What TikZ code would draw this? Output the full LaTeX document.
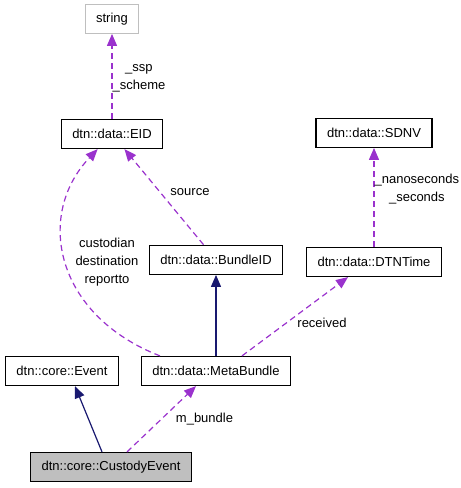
\documentclass[tikz,border=0pt]{standalone}
\usepackage{fontspec}
\setmainfont{Liberation Sans}
\usetikzlibrary{arrows.meta,positioning}
\definecolor{depPurple}{HTML}{9A32CD}
\definecolor{inhNavy}{HTML}{191970}
\definecolor{extGray}{HTML}{BFBFBF}

\begin{document}
\begin{tikzpicture}[
    x=1pt, y=-1pt,
    cls/.style={rectangle, draw=black, line width=1.2pt, fill=white, align=center, minimum height=29pt, inner xsep=11pt, font=\fontsize{13}{15}\selectfont},
    extcls/.style={cls, draw=extGray},
    focus/.style={cls, fill=extGray},
    inherit/.style={-{Triangle[length=12pt, width=10pt]}, line width=1.2pt, draw=inhNavy},
    usage/.style={-{Triangle[length=12pt, width=10pt]}, line width=1.2pt, draw=depPurple, dash pattern=on 6pt off 4pt},
    lbl/.style={align=center, inner sep=0pt, font=\fontsize{13}{18}\selectfont}
]
    \useasboundingbox (0,0) rectangle (461,488);

    \node [focus] (custody) at (111,467) {dtn::core::CustodyEvent};
    \node [cls] (event) at (62,371) {dtn::core::Event};
    \node [cls] (meta) at (216,371) {dtn::data::MetaBundle};
    \node [cls, above=81pt of meta] (bundleid) {dtn::data::BundleID};
    \node [cls] (dtntime) at (374,262) {dtn::data::DTNTime};
    \node [cls, above=99pt of dtntime] (sdnv) {dtn::data::SDNV};
    \node [cls] (eid) at (112,134) {dtn::data::EID};
    \node [extcls, above=85pt of eid] (string) {string};

    \draw [usage] (eid) -- node [lbl, right, yshift=-2pt] {\_ssp\\\_scheme} (string);
    \draw [usage] (dtntime) -- node [lbl, right, yshift=8pt] {\_nanoseconds\\\_seconds} (sdnv);
    \draw [usage] (bundleid) -- node [lbl, xshift=26pt, yshift=5pt] {source} (eid);
    \draw [usage] ([xshift=-56pt]meta.north) .. controls (55,315) and (35,215) .. node [lbl, pos=0.5, xshift=41pt] {custodian\\destination\\reportto} (eid);
    \draw [inherit] (meta) -- (bundleid);
    \draw [usage] ([xshift=26pt]meta.north) -- node [lbl, xshift=27pt, yshift=-6pt] {received} ([xshift=-26pt]dtntime.south);
    \draw [inherit] ([xshift=-9pt]custody.north) -- ([xshift=13pt]event.south);
    \draw [usage] ([xshift=16pt]custody.north) -- node [lbl, xshift=43pt] {m\_bundle} ([xshift=-20pt]meta.south);
\end{tikzpicture}
\end{document}
